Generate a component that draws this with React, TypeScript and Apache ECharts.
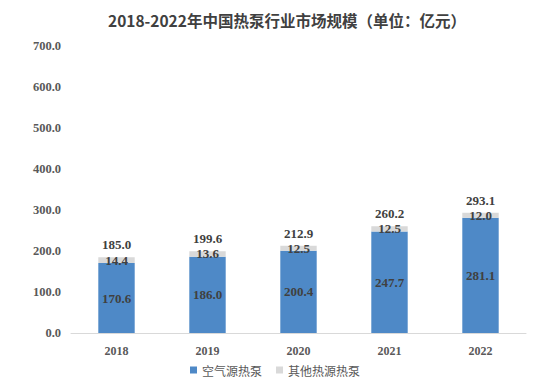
import React, { useEffect, useRef } from "react";
import * as echarts from "echarts";

const categories = ["2018", "2019", "2020", "2021", "2022"];
const airSource = [170.6, 186.0, 200.4, 247.7, 281.1];
const otherSource = [14.4, 13.6, 12.5, 12.5, 12.0];
const totals = [185.0, 199.6, 212.9, 260.2, 293.1];
const yTicks = [0, 100, 200, 300, 400, 500, 600, 700];

export default function App() {
  const ref = useRef<HTMLDivElement>(null);
  useEffect(() => {
    const chart = echarts.init(ref.current!, undefined, { renderer: "svg" });
    const serif = "'Liberation Serif', 'Times New Roman', serif";
    const labelStyle = {
      fontFamily: serif,
      fontWeight: "bold" as const,
      fontSize: 13,
      color: "#404040",
    };
    chart.setOption({
      animation: false,
      backgroundColor: "#ffffff",
      title: {
        text: "2018-2022年中国热泵行业市场规模（单位：亿元）",
        left: 103,
        top: 7,
        textStyle: {
          fontFamily: "'Noto Sans CJK SC', sans-serif",
          fontSize: 15.5,
          fontWeight: "bold",
          color: "#404040",
        },
      },
      legend: {
        data: ["空气源热泵", "其他热源热泵"],
        bottom: 4,
        left: 185,
        itemWidth: 7,
        itemHeight: 7,
        itemGap: 14,
        icon: "rect",
        textStyle: {
          fontFamily: "'Noto Sans CJK SC', sans-serif",
          fontSize: 12,
          color: "#595959",
        },
      },
      grid: { left: 71, right: 19, top: 46, bottom: 52 },
      xAxis: {
        type: "category",
        data: categories,
        axisLine: { lineStyle: { color: "#d9d9d9" } },
        axisTick: { show: false },
        axisLabel: { ...labelStyle, fontSize: 12, color: "#595959", margin: 12 },
      },
      yAxis: {
        type: "value",
        min: yTicks[0],
        max: yTicks[yTicks.length - 1],
        interval: 100,
        splitLine: { show: false },
        axisLine: { show: false },
        axisLabel: {
          ...labelStyle,
          fontSize: 12.5,
          color: "#595959",
          margin: 10,
          formatter: (v: number) => v.toFixed(1),
        },
      },
      series: [
        {
          name: "空气源热泵",
          type: "bar",
          stack: "s",
          barWidth: "40%",
          data: airSource,
          itemStyle: { color: "#4e89c7" },
          label: {
            show: true,
            position: "inside",
            ...labelStyle,
            formatter: (p: any) => Number(p.value).toFixed(1),
          },
        },
        {
          name: "其他热源热泵",
          type: "bar",
          stack: "s",
          data: otherSource,
          itemStyle: { color: "#d9d9d9" },
          label: {
            show: true,
            position: "inside",
            ...labelStyle,
            formatter: (p: any) => Number(p.value).toFixed(1),
          },
        },
        {
          name: "合计",
          type: "bar",
          stack: "s",
          data: totals.map(() => 0),
          itemStyle: { color: "transparent" },
          label: {
            show: true,
            position: "top",
            distance: 6,
            ...labelStyle,
            formatter: (p: any) => totals[p.dataIndex].toFixed(1),
          },
        },
      ],
    });
    return () => chart.dispose();
  }, []);
  return (
    <div
      ref={ref}
      style={{ position: "absolute", left: 0, top: 0, width: 545, height: 385 }}
    />
  );
}
